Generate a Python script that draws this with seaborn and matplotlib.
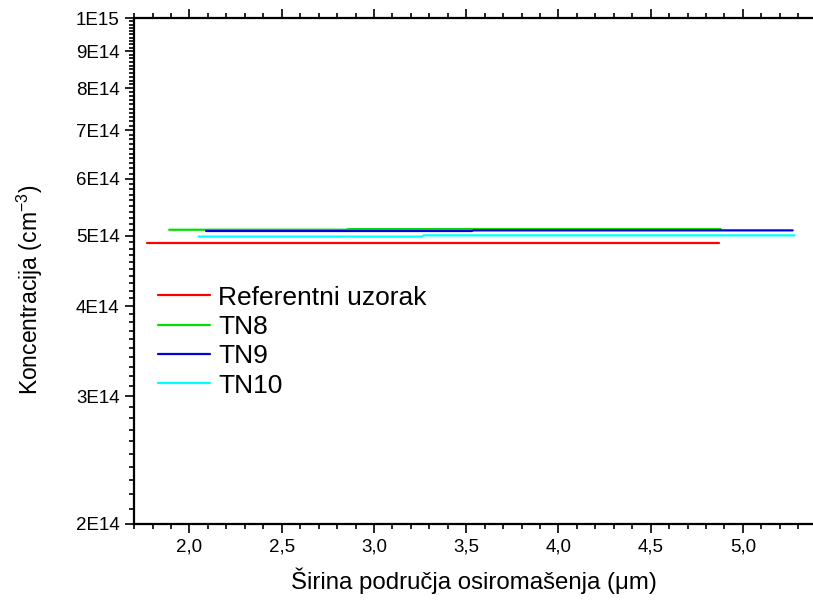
import numpy as np
import pandas as pd
import matplotlib
matplotlib.use("Agg")
import matplotlib.pyplot as plt
from matplotlib.ticker import FixedLocator, FixedFormatter, FuncFormatter, MultipleLocator
import seaborn as sns

# ---- data ----
series_names = ["Referentni uzorak", "TN8", "TN9", "TN10"]
colors = ["#ff0000", "#00e000", "#0000e0", "#00ffff"]

ref_x = [1.77, 3.30, 4.87]
ref_y = [4.89e14, 4.89e14, 4.89e14]

tn8_x = [1.89, 2.85, 2.86, 4.88]
tn8_y = [5.10e14, 5.10e14, 5.11e14, 5.11e14]

tn9_x = [2.09, 3.53, 3.54, 5.27]
tn9_y = [5.08e14, 5.08e14, 5.09e14, 5.09e14]

tn10_x = [2.05, 3.26, 3.27, 5.28]
tn10_y = [4.99e14, 4.99e14, 5.01e14, 5.01e14]

y_major = [2e14, 3e14, 4e14, 5e14, 6e14, 7e14, 8e14, 9e14, 1e15]
y_labels = ["2E14", "3E14", "4E14", "5E14", "6E14", "7E14", "8E14", "9E14", "1E15"]

rows = []
for name, xs, ys in zip(series_names, [ref_x, tn8_x, tn9_x, tn10_x], [ref_y, tn8_y, tn9_y, tn10_y]):
    for i, (a, b) in enumerate(zip(xs, ys)):
        rows.append({"x": a, "y": b, "serija": name, "i": i})
df = pd.DataFrame(rows)

sns.set_theme(style="ticks")
plt.rcParams["font.family"] = ["Liberation Sans", "DejaVu Sans"]
plt.rcParams["mathtext.default"] = "regular"
for k in ["text.color", "axes.labelcolor", "xtick.color", "ytick.color", "axes.edgecolor"]:
    plt.rcParams[k] = "black"

fig = plt.figure(figsize=(8.13, 6.07), dpi=100)
ax = fig.add_axes([0.165, 0.137, 0.835, 0.833])

sns.lineplot(data=df, x="x", y="y", hue="serija", hue_order=series_names,
             palette=colors, estimator=None, sort=False, units="serija",
             linewidth=1.6, ax=ax, legend=True)

ax.set_yscale("log")
ax.set_xlim(1.7, 5.38)
ax.set_ylim(2e14, 1e15)

ax.yaxis.set_major_locator(FixedLocator(y_major))
ax.yaxis.set_major_formatter(FixedFormatter(y_labels))
minors = [k * 1e13 for k in range(20, 101) if k % 10 != 0]
ax.yaxis.set_minor_locator(FixedLocator(minors))
ax.yaxis.set_minor_formatter(FuncFormatter(lambda v, p: ""))

ax.xaxis.set_major_locator(MultipleLocator(0.5))
ax.xaxis.set_minor_locator(MultipleLocator(0.1))
ax.xaxis.set_major_formatter(FuncFormatter(lambda v, p: f"{v:.1f}".replace(".", ",")))

for s in ["left", "bottom", "top"]:
    ax.spines[s].set_linewidth(1.6)
    ax.spines[s].set_color("black")
ax.spines["right"].set_visible(False)

ax.tick_params(axis="both", which="major", direction="out", length=6.5, width=1.2,
               labelsize=13.5, colors="black", pad=4)
ax.tick_params(axis="both", which="minor", direction="out", length=3.5, width=1.2, colors="black")
ax.tick_params(axis="x", which="both", top=True, labeltop=False)

ax.set_xlabel("Širina područja osiromašenja (μm)", fontsize=17.3, labelpad=9)
ax.set_ylabel("Koncentracija (cm$^{-3}$)", fontsize=16.5, labelpad=22)
ax.yaxis.label.set_y(0.462)

leg = ax.legend(loc="upper left", bbox_to_anchor=(0.0354, 0.471), frameon=False,
                fontsize=19, handlelength=1.97, handletextpad=0.3, labelspacing=0.2,
                borderaxespad=0, borderpad=0)
for line in leg.get_lines():
    line.set_linewidth(1.6)

fig.savefig("out.png", dpi=100)
